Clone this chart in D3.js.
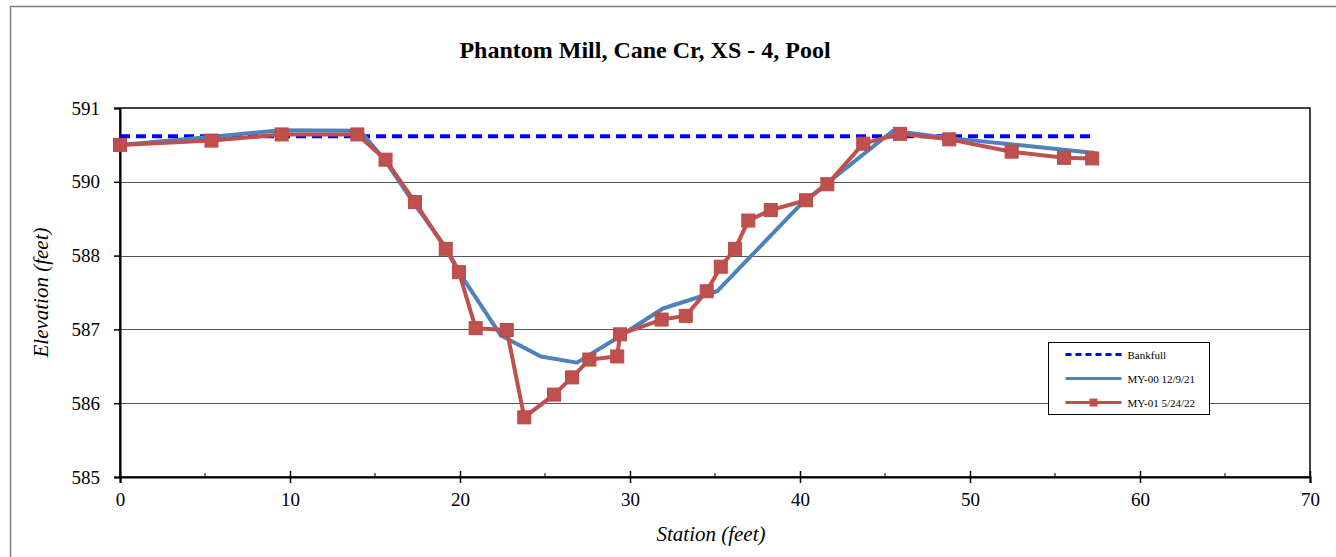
<!DOCTYPE html>
<html>
<head>
<meta charset="utf-8">
<script src="https://cdn.jsdelivr.net/npm/d3@7"></script>
<style>
	body { margin: 0; background: #fff; }
	.grid line { stroke: #555; stroke-width: 1; }
	.tick text { font-size: 19px; fill: #000; }
</style>
</head>
<body>
<div id="chart"></div>
<script>

// data
// ----------------------------------------

var title = "Phantom Mill, Cane Cr, XS - 4, Pool";

var y_ticks = [585, 586.2, 587.4, 588.6, 589.8, 591];
var y_tick_labels = ["585", "586", "587", "588", "590", "591"];
var x_ticks = [0, 10, 20, 30, 40, 50, 60, 70];
var x_minor = [5, 15, 25, 35, 45, 55, 65];

var bankfull_station = [0, 57.3];
var bankfull_elev = [590.54, 590.54];

var my00_station = [0, 5.29, 9.47, 14.12, 15.59, 17.29, 19.12, 20.18, 22.41, 24.76, 26.88, 29.0, 31.94, 35.12, 40.0, 41.65, 45.47, 48.82, 57.35];
var my00_elev = [590.40, 590.53, 590.64, 590.63, 590.15, 589.45, 588.75, 588.23, 587.30, 586.96, 586.86, 587.22, 587.74, 588.02, 589.42, 589.79, 590.63, 590.51, 590.27];

var my01_station = [0, 5.38, 9.51, 13.96, 15.62, 17.35, 19.16, 19.94, 20.92, 22.75, 23.78, 25.53, 26.59, 27.61, 29.25, 29.41, 31.86, 33.28, 34.51, 35.34, 36.18, 36.96, 38.28, 40.35, 41.61, 43.72, 45.88, 48.78, 52.45, 55.53, 57.19];
var my01_elev = [590.40, 590.47, 590.57, 590.57, 590.16, 589.47, 588.71, 588.33, 587.42, 587.39, 585.97, 586.34, 586.62, 586.91, 586.96, 587.32, 587.56, 587.62, 588.02, 588.42, 588.71, 589.17, 589.34, 589.50, 589.76, 590.42, 590.58, 590.49, 590.29, 590.19, 590.18];

var series = [
	{name: "Bankfull", x: bankfull_station, y: bankfull_elev, color: "#0000FF", dash: "10,6", marker: false},
	{name: "MY-00 12/9/21", x: my00_station, y: my00_elev, color: "#4F81BD", dash: null, marker: false},
	{name: "MY-01 5/24/22", x: my01_station, y: my01_elev, color: "#C0504D", dash: null, marker: true}
];

// layout
// ----------------------------------------

var width = 1336, height = 557;
var margin = {top: 108, right: 26, bottom: 80, left: 120};
var plot_w = width - margin.left - margin.right,
	plot_h = height - margin.top - margin.bottom;
var serif = "'Times New Roman', Times, 'Liberation Serif', 'DejaVu Serif', serif";

var svg = d3.select("#chart")
	.append("svg")
	.attr("width", width)
	.attr("height", height)
	.style("display", "block");

// outer frame
svg.append("path")
	.attr("d", "M10.5," + height + "V6.5H" + width)
	.attr("fill", "none")
	.attr("stroke", "#7f7f7f")
	.attr("stroke-width", 1.5);

svg.append("text")
	.attr("x", 645)
	.attr("y", 58)
	.attr("text-anchor", "middle")
	.style("font-family", serif)
	.style("font-size", "24px")
	.style("font-weight", "bold")
	.text(title);

var plot = svg.append("g")
	.attr("transform", "translate(" + margin.left + "," + margin.top + ")");

var x = d3.scaleLinear().domain([0, 70]).range([0, plot_w]);
var y = d3.scaleLinear().domain([585, 591]).range([plot_h, 0]);

// gridlines
plot.append("g")
	.attr("class", "grid")
	.selectAll("line")
	.data(y_ticks.slice(1, -1))
	.enter()
	.append("line")
	.attr("x1", 0)
	.attr("x2", plot_w)
	.attr("y1", function(d) { return Math.round(y(d)) + 0.5; })
	.attr("y2", function(d) { return Math.round(y(d)) + 0.5; });

// plot border
plot.append("rect")
	.attr("width", plot_w)
	.attr("height", plot_h)
	.attr("fill", "none")
	.attr("stroke", "#000")
	.attr("stroke-width", 1.5);

// axes
var y_axis = d3.axisLeft(y)
	.tickValues(y_ticks)
	.tickSize(6)
	.tickPadding(8)
	.tickFormat(function(d, i) { return y_tick_labels[i]; });

var gy = plot.append("g").call(y_axis);
gy.select(".domain").attr("stroke-width", 2);
gy.selectAll(".tick line").attr("stroke-width", 1.5);
gy.selectAll(".tick text").attr("dx", "-6px").style("font-family", serif);

var x_axis = d3.axisBottom(x)
	.tickValues(x_ticks)
	.tickSize(6)
	.tickPadding(10)
	.tickFormat(d3.format("d"));

var gx = plot.append("g")
	.attr("transform", "translate(0," + plot_h + ")")
	.call(x_axis);
gx.select(".domain").attr("stroke-width", 2);
gx.selectAll(".tick line").attr("y1", -6).attr("stroke-width", 1.5);
gx.selectAll(".tick text").style("font-family", serif);

plot.append("g")
	.selectAll("line")
	.data(x_minor)
	.enter()
	.append("line")
	.attr("x1", function(d) { return x(d); })
	.attr("x2", function(d) { return x(d); })
	.attr("y1", plot_h - 4)
	.attr("y2", plot_h)
	.attr("stroke", "#000")
	.attr("stroke-width", 1);

// axis titles
svg.append("text")
	.attr("transform", "translate(48," + (margin.top + plot_h / 2) + ") rotate(-90)")
	.attr("text-anchor", "middle")
	.style("font-family", serif)
	.style("font-size", "21px")
	.style("font-style", "italic")
	.text("Elevation (feet)");

svg.append("text")
	.attr("x", 711)
	.attr("y", 541)
	.attr("text-anchor", "middle")
	.style("font-family", serif)
	.style("font-size", "21px")
	.style("font-style", "italic")
	.text("Station (feet)");

// lines
var line = d3.line()
	.x(function(d) { return x(d[0]); })
	.y(function(d) { return y(d[1]); });

series.forEach(function(s) {
	var pts = s.x.map(function(v, i) { return [v, s.y[i]]; });
	plot.append("path")
		.datum(pts)
		.attr("d", line)
		.attr("fill", "none")
		.attr("stroke", s.color)
		.attr("stroke-width", 4)
		.attr("stroke-linejoin", "round")
		.attr("stroke-dasharray", s.dash);

	if (s.marker) {
		plot.append("g")
			.selectAll("rect")
			.data(pts)
			.enter()
			.append("rect")
			.attr("x", function(d) { return x(d[0]) - 6.5; })
			.attr("y", function(d) { return y(d[1]) - 6.5; })
			.attr("width", 13)
			.attr("height", 13)
			.attr("fill", s.color)
			.attr("stroke", "#b84a47")
			.attr("stroke-width", 1);
	}
});

// legend
var legend = svg.append("g")
	.attr("transform", "translate(1048.5,342.5)");

legend.append("rect")
	.attr("width", 161)
	.attr("height", 72)
	.attr("fill", "#fff")
	.attr("stroke", "#000")
	.attr("stroke-width", 1);

var items = legend.selectAll(".item")
	.data(series)
	.enter()
	.append("g")
	.attr("transform", function(d, i) { return "translate(0," + (12 + i * 24) + ")"; });

items.append("line")
	.attr("x1", 17)
	.attr("x2", 73)
	.attr("stroke", function(d) { return d.color; })
	.attr("stroke-width", 3)
	.attr("stroke-dasharray", function(d) { return d.dash ? "6,4" : null; });

items.filter(function(d) { return d.marker; })
	.append("rect")
	.attr("x", 41)
	.attr("y", -4)
	.attr("width", 8)
	.attr("height", 8)
	.attr("fill", function(d) { return d.color; });

items.append("text")
	.attr("x", 79)
	.attr("y", 4)
	.style("font-family", serif)
	.style("font-size", "11px")
	.text(function(d) { return d.name; });

</script>
</body>
</html>
